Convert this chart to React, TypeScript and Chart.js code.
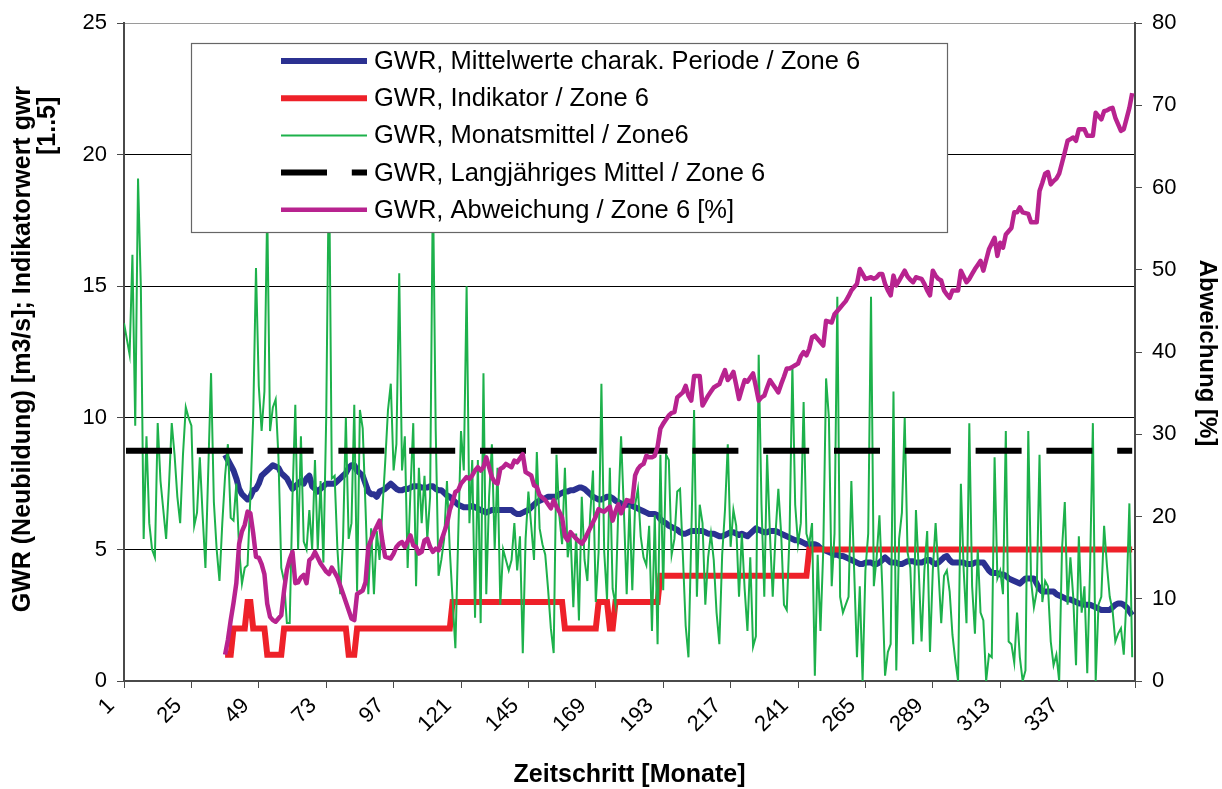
import React, { useEffect, useRef } from "react";
import { Chart, registerables } from "chart.js";

Chart.register(...registerables);

const FONT = "'Liberation Sans', Arial, Helvetica, sans-serif";

// ---- categories / ticks ----
const months: number[] = Array.from({ length: 360 }, (_, i) => i + 1);
const xTickValues = [1, 25, 49, 73, 97, 121, 145, 169, 193, 217, 241, 265, 289, 313, 337, 361];
const xTickLabels = ["1", "25", "49", "73", "97", "121", "145", "169", "193", "217", "241", "265", "289", "313", "337", ""];
const leftTicks = [0, 5, 10, 15, 20, 25];
const rightTicks = [0, 10, 20, 30, 40, 50, 60, 70, 80];

// ---- series labels ----
const labelMean = "GWR, Mittelwerte charak. Periode / Zone 6";
const labelIndicator = "GWR, Indikator / Zone 6";
const labelMonthly = "GWR, Monatsmittel / Zone6";
const labelLongTerm = "GWR, Langjähriges Mittel / Zone 6";
const labelDeviation = "GWR, Abweichung / Zone 6 [%]";

// ---- values ----
// GWR monthly means, months 1..360
const monthlyValues = [
  13.6, 13.0, 12.4, 16.2, 9.7, 19.1, 15.0, 5.4, 9.3, 6.0, 5.0, 4.7,
  9.8, 7.6, 6.5, 5.4, 7.4, 9.8, 8.6, 7.0, 6.0, 8.6, 10.4, 10.0,
  9.7, 5.9, 6.4, 8.5, 6.3, 4.3, 8.0, 11.7, 6.8, 5.0, 3.8, 6.0,
  7.8, 9.0, 6.2, 6.1, 7.5, 5.0, 3.7, 4.3, 4.4, 7.0, 10.0, 15.7,
  11.2, 9.5, 11.0, 18.0, 9.5, 10.4, 10.7, 8.5, 4.3, 3.8, 2.2, 2.2,
  7.0, 10.5, 5.0, 9.3, 5.3, 5.0, 6.5, 5.0, 8.4, 5.0, 7.6, 4.5,
  10.0, 20.0, 7.7, 7.8, 5.0, 3.3, 5.4, 10.0, 5.4, 6.0, 10.5, 3.4,
  10.3, 9.6, 6.6, 3.3, 5.8, 3.3, 5.7, 4.6, 6.5, 8.3, 10.3, 11.3,
  8.0, 9.0, 15.5, 8.0, 9.3, 4.3, 7.2, 9.8, 3.6, 8.1, 6.0, 7.8,
  5.4, 7.0, 19.0, 9.5, 4.0, 4.6, 5.4, 7.6, 5.0, 3.1, 1.25, 5.5,
  9.5, 8.0, 15.0, 6.0, 8.4, 2.4, 8.4, 2.2, 11.7, 3.3, 7.0, 9.0,
  5.0, 8.1, 2.9, 5.0, 4.6, 4.2, 4.6, 6.0, 4.2, 5.5, 1.06, 5.4,
  7.2, 5.9, 4.6, 8.7, 5.8, 5.2, 4.8, 3.5, 2.0, 1.06, 8.6, 6.3,
  5.2, 8.1, 4.7, 5.6, 2.8, 5.6, 2.3, 7.0, 4.6, 3.8, 6.3, 8.0,
  3.0, 4.9, 11.3, 4.9, 3.1, 8.1, 3.5, 2.9, 6.5, 9.3, 6.5, 3.3,
  6.7, 3.45, 6.7, 7.3, 5.5, 4.7, 4.4, 5.9, 1.9, 6.3, 1.4, 8.6,
  3.45, 8.6, 8.4, 4.8, 5.4, 7.2, 7.3, 4.8, 2.1, 0.9, 5.5, 10.3,
  3.2, 6.7, 6.0, 2.9, 4.7, 5.6, 4.6, 2.6, 1.4, 4.8, 6.5, 9.0,
  5.1, 6.5, 5.9, 3.2, 5.6, 3.5, 1.9, 4.7, 1.3, 1.7, 12.4, 6.7,
  3.2, 8.6, 5.6, 3.2, 5.6, 7.3, 5.6, 2.9, 2.7, 5.6, 12.0, 6.7,
  5.2, 6.0, 10.6, 5.6, 5.2, 6.0, 0.2, 4.8, 1.9, 5.0, 11.5, 10.0,
  3.6, 5.6, 14.6, 3.2, 2.6, 2.9, 3.2, 7.6, 4.2, 0.9, 3.6, 0,
  4.2, 5.6, 14.6, 3.6, 4.7, 6.3, 3.6, 0.2, 1.1, 1.4, 11.0, 0.4,
  5.4, 6.4, 10.0, 4.9, 4.3, 1.4, 6.5, 4.2, 1.5, 4.2, 5.7, 1.1,
  4.2, 6.0, 4.2, 2.2, 4.0, 4.2, 3.4, 1.75, 0.8, 0, 7.5, 4.2,
  2.2, 9.8, 3.6, 1.8, 5.0, 2.6, 2.3, 0, 1.0, 0.9, 8.5, 3.9,
  4.2, 3.3, 9.5, 1.5, 1.4, 0.7, 2.6, 0.9, 0, 0.4, 9.5, 3.8,
  2.8, 3.4, 8.6, 3.0, 3.8, 3.6, 1.5, 0.6, 1.0, 0, 5.0, 6.8,
  2.9, 4.7, 3.2, 0.6, 5.5, 2.6, 3.6, 0.3, 4.3, 9.8, 0, 2.9,
  3.2, 5.9, 4.4, 3.2, 2.7, 1.5, 1.8, 2.0, 1.0, 3.2, 6.75, 0.9,
];

// series below start at month 37
const periodStartMonth = 37;

// Mittelwerte charak. Periode, months 37..360
const meanValues = [
  8.6, 8.4, 8.2, 8.0, 7.7, 7.3, 7.1, 7.0, 6.9, 7.0, 7.25, 7.3,
  7.5, 7.8, 7.9, 8.0, 8.1, 8.2, 8.15, 8.1, 7.9, 7.8, 7.7, 7.5,
  7.3, 7.4, 7.5, 7.6, 7.5, 7.7, 7.8, 7.4, 7.3, 7.2, 7.3, 7.4,
  7.5, 7.5, 7.5, 7.5, 7.6, 7.7, 7.8, 7.9, 8.1, 8.2, 8.2, 8.0,
  7.9, 7.8, 7.5, 7.2, 7.1, 7.1, 7.0, 7.2, 7.25, 7.3, 7.4, 7.5,
  7.4, 7.3, 7.25, 7.25, 7.3, 7.3, 7.35, 7.4, 7.4, 7.4, 7.35, 7.35,
  7.35, 7.4, 7.4, 7.3, 7.25, 7.25, 7.15, 7.05, 7.0, 6.9, 6.8, 6.7,
  6.65, 6.6, 6.6, 6.6, 6.65, 6.6, 6.55, 6.5, 6.45, 6.4, 6.45, 6.5,
  6.5, 6.5, 6.5, 6.5, 6.5, 6.5, 6.5, 6.4, 6.35, 6.35, 6.4, 6.45,
  6.5, 6.6, 6.7, 6.8, 6.85, 6.9, 6.95, 7.0, 7.0, 7.0, 7.0, 7.1,
  7.15, 7.2, 7.2, 7.25, 7.25, 7.3, 7.35, 7.35, 7.3, 7.2, 7.1, 7.0,
  6.95, 6.9, 6.9, 6.95, 7.0, 7.0, 6.95, 6.85, 6.8, 6.75, 6.7, 6.7,
  6.7, 6.65, 6.6, 6.55, 6.5, 6.45, 6.4, 6.35, 6.35, 6.35, 6.3, 6.15,
  6.05, 6.0, 5.9, 5.85, 5.8, 5.75, 5.65, 5.6, 5.6, 5.65, 5.7, 5.7,
  5.7, 5.7, 5.7, 5.65, 5.6, 5.6, 5.6, 5.55, 5.5, 5.5, 5.55, 5.6,
  5.65, 5.65, 5.6, 5.55, 5.6, 5.55, 5.5, 5.6, 5.7, 5.8, 5.75, 5.7,
  5.65, 5.65, 5.7, 5.7, 5.7, 5.65, 5.6, 5.55, 5.5, 5.45, 5.4, 5.35,
  5.35, 5.3, 5.25, 5.2, 5.2, 5.2, 5.2, 5.15, 5.05, 5.0, 4.95, 4.9,
  4.85, 4.8, 4.8, 4.75, 4.75, 4.7, 4.65, 4.6, 4.55, 4.5, 4.45, 4.45,
  4.5, 4.5, 4.5, 4.45, 4.45, 4.5, 4.6, 4.7, 4.6, 4.5, 4.5, 4.5,
  4.45, 4.45, 4.5, 4.55, 4.55, 4.55, 4.5, 4.5, 4.5, 4.55, 4.6, 4.6,
  4.5, 4.45, 4.5, 4.6, 4.7, 4.75, 4.6, 4.5, 4.5, 4.5, 4.5, 4.5,
  4.45, 4.45, 4.45, 4.5, 4.5, 4.5, 4.5, 4.35, 4.2, 4.1, 4.1, 4.1,
  4.05, 4.05, 4.0, 3.9, 3.85, 3.8, 3.75, 3.7, 3.8, 3.9, 3.9, 3.9,
  3.9, 3.7, 3.5, 3.4, 3.4, 3.4, 3.4, 3.4, 3.3, 3.25, 3.2, 3.15,
  3.1, 3.1, 3.05, 3.0, 2.95, 2.95, 2.9, 2.9, 2.9, 2.85, 2.8, 2.75,
  2.7, 2.7, 2.7, 2.7, 2.8, 2.9, 2.95, 2.95, 2.9, 2.8, 2.65, 2.5,
];

// Indikator (1..5), months 37..360
const indicatorValues = [
  1, 1, 1, 2, 2, 2, 2, 2, 3, 3, 2, 2,
  2, 2, 2, 1, 1, 1, 1, 1, 1, 2, 2, 2,
  2, 2, 2, 2, 2, 2, 2, 2, 2, 2, 2, 2,
  2, 2, 2, 2, 2, 2, 2, 2, 1, 1, 1, 2,
  2, 2, 2, 2, 2, 2, 2, 2, 2, 2, 2, 2,
  2, 2, 2, 2, 2, 2, 2, 2, 2, 2, 2, 2,
  2, 2, 2, 2, 2, 2, 2, 2, 2, 3, 3, 3,
  3, 3, 3, 3, 3, 3, 3, 3, 3, 3, 3, 3,
  3, 3, 3, 3, 3, 3, 3, 3, 3, 3, 3, 3,
  3, 3, 3, 3, 3, 3, 3, 3, 3, 3, 3, 3,
  3, 2, 2, 2, 2, 2, 2, 2, 2, 2, 2, 2,
  2, 3, 3, 3, 3, 2, 2, 3, 3, 3, 3, 3,
  3, 3, 3, 3, 3, 3, 3, 3, 3, 3, 3, 4,
  4, 4, 4, 4, 4, 4, 4, 4, 4, 4, 4, 4,
  4, 4, 4, 4, 4, 4, 4, 4, 4, 4, 4, 4,
  4, 4, 4, 4, 4, 4, 4, 4, 4, 4, 4, 4,
  4, 4, 4, 4, 4, 4, 4, 4, 4, 4, 4, 4,
  4, 4, 4, 4, 5, 5, 5, 5, 5, 5, 5, 5,
  5, 5, 5, 5, 5, 5, 5, 5, 5, 5, 5, 5,
  5, 5, 5, 5, 5, 5, 5, 5, 5, 5, 5, 5,
  5, 5, 5, 5, 5, 5, 5, 5, 5, 5, 5, 5,
  5, 5, 5, 5, 5, 5, 5, 5, 5, 5, 5, 5,
  5, 5, 5, 5, 5, 5, 5, 5, 5, 5, 5, 5,
  5, 5, 5, 5, 5, 5, 5, 5, 5, 5, 5, 5,
  5, 5, 5, 5, 5, 5, 5, 5, 5, 5, 5, 5,
  5, 5, 5, 5, 5, 5, 5, 5, 5, 5, 5, 5,
  5, 5, 5, 5, 5, 5, 5, 5, 5, 5, 5, 5,
];

// Abweichung [%], months 37..360
const deviationValues = [
  3.2, 5.0, 7.4, 9.5, 11.9, 16.7, 18.2, 19.0, 20.6, 20.4, 18.0, 15.1,
  15.0, 14.2, 13.0, 9.4, 7.8, 7.4, 7.2, 7.6, 8.0, 11.0, 13.5, 14.8,
  15.7, 11.9, 12.0, 12.6, 12.9, 11.9, 14.7, 15.0, 15.7, 15.0, 14.3, 13.8,
  13.3, 13.0, 13.8, 13.2, 12.6, 11.6, 10.6, 9.6, 8.6, 7.6, 7.4, 10.6,
  10.8, 11.0, 12.0, 16.3, 17.2, 18.1, 18.8, 19.5, 17.0, 15.1, 15.0, 14.9,
  15.5, 16.3, 16.7, 16.9, 16.3, 17.0, 17.7, 16.5, 16.3, 15.5, 15.7, 17.1,
  17.3, 16.3, 15.7, 16.1, 15.9, 17.1, 18.1, 19.1, 20.8, 21.8, 23.0, 23.2,
  24.0, 24.4, 24.8, 24.6, 25.0, 25.6, 26.0, 25.6, 26.0, 27.2, 26.0, 24.8,
  24.2, 24.0, 25.8, 26.0, 26.4, 26.2, 26.0, 26.8, 26.6, 27.1, 27.6, 25.4,
  25.2, 25.0, 23.8, 23.6, 22.6, 22.3, 22.0, 21.5, 21.0, 22.0, 21.2, 20.6,
  19.9, 17.6, 17.1, 18.1, 17.7, 17.3, 17.0, 16.7, 17.2, 17.9, 18.6, 19.3,
  20.0, 20.9, 20.7, 20.6, 20.9, 21.2, 19.5, 20.6, 21.5, 20.4, 21.2, 22.0,
  21.9, 21.8, 25.0, 25.8, 26.2, 26.4, 27.4, 27.2, 27.2, 27.4, 28.5, 30.7,
  31.3, 31.8, 32.3, 32.6, 32.7, 34.5, 34.8, 35.1, 35.9, 34.7, 34.1, 37.1,
  37.1, 37.1, 33.5, 34.1, 34.7, 35.2, 35.7, 35.9, 36.1, 37.0, 37.8, 36.6,
  37.0, 37.6, 36.0, 34.3, 35.5, 36.6, 36.4, 36.9, 37.4, 35.8, 34.1, 34.5,
  34.7, 35.7, 36.6, 36.1, 35.6, 35.1, 36.1, 37.0, 38.0, 38.0, 38.2, 38.4,
  38.6, 39.5, 40.0, 39.6, 40.4, 41.8, 42.0, 41.6, 41.2, 40.8, 43.8, 43.7,
  43.6, 44.6, 45.0, 45.4, 45.8, 46.2, 46.8, 47.5, 47.9, 48.3, 50.1, 49.5,
  48.9, 49.0, 49.1, 48.9, 49.1, 49.5, 49.5, 48.3, 47.5, 46.9, 49.3, 48.1,
  48.7, 49.3, 49.9, 49.2, 48.8, 48.5, 49.1, 49.0, 48.9, 48.3, 47.5, 46.9,
  49.9, 49.3, 48.9, 48.7, 47.5, 47.0, 46.6, 47.5, 47.5, 47.5, 49.9, 49.2,
  48.5, 48.9, 49.5, 50.1, 50.6, 51.1, 49.9, 51.2, 52.5, 53.2, 53.9, 51.7,
  53.3, 52.7, 54.3, 54.7, 55.1, 57.0, 57.0, 57.6, 57.0, 56.9, 56.8, 55.8,
  55.8, 55.8, 59.6, 60.6, 61.7, 61.9, 60.4, 60.8, 61.1, 61.7, 63.0, 64.3,
  65.7, 65.9, 66.1, 65.7, 67.1, 67.1, 67.1, 66.3, 66.3, 66.3, 69.1, 68.7,
  68.3, 69.3, 69.4, 69.6, 69.7, 68.5, 67.7, 66.9, 67.1, 68.4, 69.7, 71.5,
];

// Langjähriges Mittel (constant)
const longTermMean = 8.75;

// ---- styles ----
const COLOR_BLUE = "#2b3191";
const COLOR_RED = "#ee2129";
const COLOR_GREEN = "#1db14b";
const COLOR_BLACK = "#000000";
const COLOR_MAGENTA = "#b8238f";
const AXIS_COLOR = "#4a4a4a";

const fromPeriod = (arr: number[]) => arr.map((v, i) => ({ x: periodStartMonth + i, y: v }));

const decorPlugin = {
  id: "decor",
  afterDatasetsDraw(chart: any) {
    const ctx = chart.ctx as CanvasRenderingContext2D;
    const order = [0, 1, 2, 3, 4];
    ctx.save();
    // legend box
    ctx.fillStyle = "#ffffff";
    ctx.fillRect(191, 43, 756, 189);
    ctx.strokeStyle = "#666666";
    ctx.lineWidth = 1.2;
    ctx.strokeRect(191.5, 43.5, 756, 189);
    order.forEach((di, i) => {
      const ds = chart.data.datasets[di];
      const y = 61 + i * 37.2;
      ctx.beginPath();
      ctx.strokeStyle = ds.borderColor;
      ctx.lineWidth = ds.borderWidth;
      ctx.lineCap = "butt";
      ctx.setLineDash(ds.borderDash || []);
      ctx.lineDashOffset = 0;
      ctx.moveTo(281, y);
      ctx.lineTo(367, y);
      ctx.stroke();
      ctx.setLineDash([]);
      ctx.fillStyle = "#000";
      ctx.font = `25.5px ${FONT}`;
      ctx.textAlign = "left";
      ctx.textBaseline = "middle";
      ctx.fillText(ds.label, 374, y + 1);
    });
    ctx.restore();
  },
  afterDraw(chart: any) {
    const ctx = chart.ctx as CanvasRenderingContext2D;
    const ca = chart.chartArea;
    ctx.save();
    ctx.fillStyle = "#000";
    ctx.textBaseline = "middle";
    // x title
    ctx.font = `bold 25px ${FONT}`;
    ctx.textAlign = "center";
    ctx.fillText("Zeitschritt [Monate]", (ca.left + ca.right) / 2, 775);
    // left title
    ctx.save();
    ctx.translate(23, (ca.top + ca.bottom) / 2 - 3);
    ctx.rotate(-Math.PI / 2);
    ctx.textAlign = "center";
    ctx.fillText("GWR (Neubildung) [m3/s]; Indikatorwert gwr", 0, 0);
    ctx.restore();
    ctx.save();
    ctx.translate(48, 155);
    ctx.rotate(-Math.PI / 2);
    ctx.textAlign = "left";
    ctx.fillText("[1..5]", 0, 0);
    ctx.restore();
    // right title
    ctx.font = `bold 24px ${FONT}`;
    ctx.save();
    ctx.translate(1207, 353);
    ctx.rotate(Math.PI / 2);
    ctx.textAlign = "center";
    ctx.fillText("Abweichung [%]", 0, 0);
    ctx.restore();
    ctx.restore();
  },
};

export default function App() {
  const ref = useRef<HTMLCanvasElement | null>(null);
  useEffect(() => {
    document.body.style.margin = "0";
    const canvas = ref.current;
    if (!canvas) return;
    const chart = new Chart(canvas, {
      type: "line",
      data: {
        labels: months,
        datasets: [
          {
            label: labelMean,
            data: fromPeriod(meanValues),
            borderColor: COLOR_BLUE,
            borderWidth: 6,
            yAxisID: "y",
            order: 5,
            borderJoinStyle: "round",
          },
          {
            label: labelIndicator,
            data: fromPeriod(indicatorValues),
            borderColor: COLOR_RED,
            borderWidth: 6,
            yAxisID: "y",
            order: 4,
            borderJoinStyle: "miter",
          },
          {
            label: labelMonthly,
            data: months.map((m, i) => ({ x: m, y: monthlyValues[i] })),
            borderColor: COLOR_GREEN,
            borderWidth: 2,
            yAxisID: "y",
            order: 3,
          },
          {
            label: labelLongTerm,
            data: months.map((m) => ({ x: m, y: longTermMean })),
            borderColor: COLOR_BLACK,
            borderWidth: 6,
            borderDash: [46, 24.8],
            borderDashOffset: -2,
            borderCapStyle: "butt",
            yAxisID: "y",
            order: 2,
          },
          {
            label: labelDeviation,
            data: fromPeriod(deviationValues),
            borderColor: COLOR_MAGENTA,
            borderWidth: 4.5,
            yAxisID: "y1",
            order: 1,
            borderJoinStyle: "round",
          },
        ] as any,
      },
      options: {
        animation: false,
        responsive: false,
        maintainAspectRatio: false,
        layout: { padding: { top: 22, left: 0, right: 0, bottom: 0 } },
        elements: { point: { radius: 0, hoverRadius: 0 }, line: { tension: 0, fill: false } },
        plugins: {
          legend: { display: false },
          tooltip: { enabled: false },
          title: { display: false },
        },
        scales: {
          x: {
            type: "linear",
            min: 1,
            max: 361,
            afterBuildTicks: (s: any) => {
              s.ticks = xTickValues.map((v) => ({ value: v }));
            },
            afterFit: (s: any) => {
              s.height = 108;
            },
            ticks: {
              autoSkip: false,
              minRotation: 45,
              maxRotation: 45,
              padding: 5,
              labelOffset: -13,
              color: "#000",
              font: { size: 22, family: FONT },
              callback: (v: any) => {
                const idx = xTickValues.indexOf(Number(v));
                return idx >= 0 ? xTickLabels[idx] : "";
              },
            },
            grid: {
              drawOnChartArea: false,
              drawTicks: true,
              tickLength: 7,
              tickColor: AXIS_COLOR,
              color: AXIS_COLOR,
            },
            border: { display: true, color: AXIS_COLOR, width: 2 },
          },
          y: {
            type: "linear",
            position: "left",
            min: 0,
            max: 25,
            afterBuildTicks: (s: any) => {
              s.ticks = leftTicks.map((v) => ({ value: v }));
            },
            afterFit: (s: any) => {
              s.width = 124;
            },
            ticks: {
              padding: 10,
              color: "#000",
              font: { size: 22, family: FONT },
              callback: (v: any) => String(v),
            },
            grid: {
              color: (c: any) => (c.tick && c.tick.value === 25 ? "#9a9a9a" : "#000"),
              lineWidth: 1,
              drawTicks: true,
              tickLength: 7,
              tickColor: AXIS_COLOR,
            },
            border: { display: true, color: AXIS_COLOR, width: 2 },
          },
          y1: {
            type: "linear",
            position: "right",
            min: 0,
            max: 80,
            afterBuildTicks: (s: any) => {
              s.ticks = rightTicks.map((v) => ({ value: v }));
            },
            afterFit: (s: any) => {
              s.width = 87;
            },
            ticks: {
              padding: 10,
              color: "#000",
              font: { size: 22, family: FONT },
              callback: (v: any) => String(v),
            },
            grid: {
              drawOnChartArea: false,
              drawTicks: true,
              tickLength: 7,
              tickColor: AXIS_COLOR,
              color: AXIS_COLOR,
            },
            border: { display: true, color: AXIS_COLOR, width: 2 },
          },
        },
      } as any,
      plugins: [decorPlugin],
    });
    return () => chart.destroy();
  }, []);
  return (
    <div style={{ position: "absolute", left: 0, top: 0, width: 1222, height: 789, background: "#fff" }}>
      <canvas ref={ref} width={1222} height={789} style={{ display: "block", width: 1222, height: 789 }} />
    </div>
  );
}
